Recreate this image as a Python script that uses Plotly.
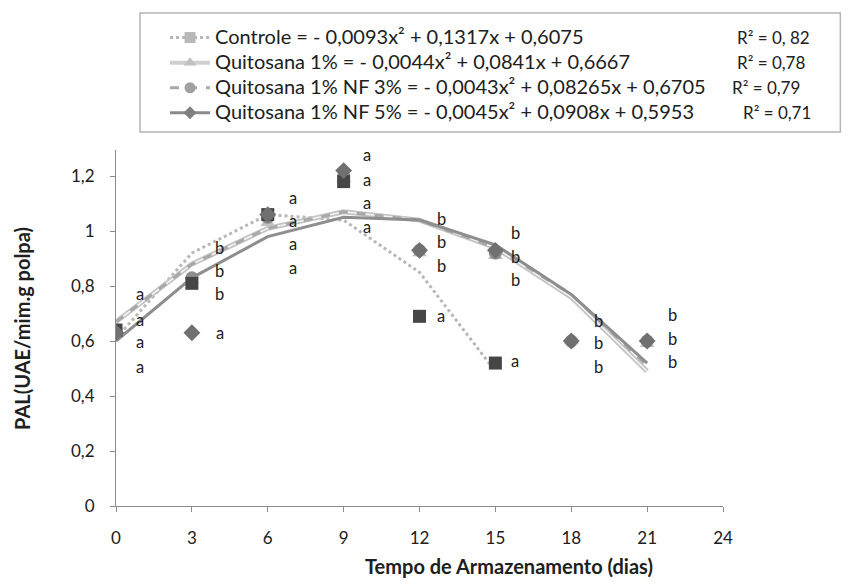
import plotly.graph_objects as go

# ---------------- data ----------------
days = [0, 3, 6, 9, 12, 15, 18, 21]
days_controle = [0, 3, 6, 9, 12, 15]

controle = [0.64, 0.81, 1.06, 1.18, 0.69, 0.52]
quitosana = [0.64, 0.82, 1.03, 1.19, 0.92, 0.91, 0.60, 0.59]
nf3 = [0.64, 0.83, 1.05, 1.20, 0.93, 0.92, 0.60, 0.60]
nf5 = [0.63, 0.63, 1.06, 1.22, 0.93, 0.93, 0.60, 0.60]

# trend lines
trend_controle = [0.61, 0.92, 1.06, 1.04, 0.85, 0.49]
trend_quitosana = [0.67, 0.88, 1.01, 1.07, 1.04, 0.94, 0.76, 0.49]
trend_nf3 = [0.67, 0.88, 1.01, 1.07, 1.04, 0.94, 0.77, 0.51]
trend_nf5 = [0.60, 0.83, 0.98, 1.05, 1.04, 0.95, 0.77, 0.52]

legend_names = [
    "Controle = - 0,0093x² + 0,1317x + 0,6075",
    "Quitosana 1% = - 0,0044x² + 0,0841x + 0,6667",
    "Quitosana 1% NF 3% = - 0,0043x² + 0,08265x + 0,6705",
    "Quitosana 1% NF 5% = - 0,0045x² + 0,0908x + 0,5953",
]
r2_labels = ["R² = 0, 82", "R² = 0,78", "R² = 0,79", "R² = 0,71"]

# significance letters
letters = ["a", "a", "a", "a",
           "b", "b", "b", "a",
           "a", "a", "a", "a",
           "a", "a", "a", "a",
           "b", "b", "b", "a",
           "b", "b", "b", "a",
           "b", "b", "b",
           "b", "b", "b"]
letter_x = [0.95] * 4 + [4.1] * 4 + [7.0] * 4 + [9.93] * 4 + [12.86] * 4 + [15.78] * 4 + [19.07] * 3 + [22.0] * 3
letter_y = [0.771, 0.676, 0.596, 0.505,
            0.938, 0.855, 0.771, 0.629,
            1.120, 1.036, 0.953, 0.865,
            1.276, 1.185, 1.102, 1.015,
            1.044, 0.960, 0.873, 0.691,
            0.993, 0.905, 0.822, 0.527,
            0.673, 0.593, 0.505,
            0.695, 0.607, 0.524]

x_ticks = [0, 3, 6, 9, 12, 15, 18, 21, 24]
y_ticks = [0, 0.2, 0.4, 0.6, 0.8, 1.0, 1.2]
y_ticktext = ["0", "0,2", "0,4", "0,6", "0,8", "1", "1,2"]

FONT = "Lato, Carlito, 'Liberation Sans', sans-serif"

# ---------------- layout helpers (screen px -> paper) ----------------
OFF = 8
L, R, T, B = 108, 714.7, 142, 498


def px(sx):
    return (sx - OFF - L) / (R - L)


def py(sy):
    return (B - (sy - OFF)) / (B - T)


fig = go.Figure()

# trend lines
fig.add_trace(go.Scatter(x=days_controle, y=trend_controle, mode="lines",
                         line=dict(color="#b8b8b8", width=3, dash="dot"),
                         showlegend=False, hoverinfo="skip"))
fig.add_trace(go.Scatter(x=days, y=trend_quitosana, mode="lines",
                         line=dict(color="#c4c4c4", width=5),
                         showlegend=False, hoverinfo="skip"))
fig.add_trace(go.Scatter(x=days, y=trend_quitosana, mode="lines",
                         line=dict(color="#f4f4f4", width=1.5),
                         showlegend=False, hoverinfo="skip"))
fig.add_trace(go.Scatter(x=days, y=trend_nf3, mode="lines",
                         line=dict(color="#a8a8a8", width=3, dash="dash"),
                         showlegend=False, hoverinfo="skip"))
fig.add_trace(go.Scatter(x=days, y=trend_nf5, mode="lines",
                         line=dict(color="#8e8e8e", width=3),
                         showlegend=False, hoverinfo="skip"))

# data markers
fig.add_trace(go.Scatter(x=days, y=quitosana, mode="markers",
                         marker=dict(symbol="triangle-up", size=13, color="#c0c0c0"),
                         showlegend=False))
fig.add_trace(go.Scatter(x=days, y=nf3, mode="markers",
                         marker=dict(symbol="circle", size=13, color="#8e8e8e"),
                         showlegend=False))
fig.add_trace(go.Scatter(x=days_controle, y=controle, mode="markers",
                         marker=dict(symbol="square", size=13, color="#464646"),
                         showlegend=False))
fig.add_trace(go.Scatter(x=days, y=nf5, mode="markers",
                         marker=dict(symbol="diamond", size=13, color="#707070"),
                         showlegend=False))

# legend-only entries
leg_styles = [
    (dict(color="#b8b8b8", width=3, dash="dot"), dict(symbol="square", size=11, color="#b8b8b8")),
    (dict(color="#d0d0d0", width=4), dict(symbol="triangle-up", size=11, color="#c0c0c0")),
    (dict(color="#a8a8a8", width=3, dash="dash"), dict(symbol="circle", size=11, color="#a0a0a0")),
    (dict(color="#8a8a8a", width=3), dict(symbol="diamond", size=10, color="#808080")),
]
for name, (ln, mk) in zip(legend_names, leg_styles):
    fig.add_trace(go.Scatter(x=[None], y=[None], mode="lines+markers",
                             name='<span style="font-size:20px">' + name + '</span>',
                             line=ln, marker=mk, showlegend=True))

# letters
for t, xx, yy in zip(letters, letter_x, letter_y):
    fig.add_annotation(x=xx, y=yy, text=t, showarrow=False, xanchor="center",
                       yanchor="middle", font=dict(family=FONT, size=16.5, color="#202020"))

# R² annotations
r2_x_px = [735, 735, 730, 741]
r2_y_px = [37, 62, 87, 112]
for lab, xp, yp in zip(r2_labels, r2_x_px, r2_y_px):
    fig.add_annotation(xref="paper", yref="paper", x=px(xp), y=py(yp),
                       text=lab, showarrow=False, xanchor="left", yanchor="middle",
                       font=dict(family=FONT, size=17, color="#202020"))

# legend box
fig.add_shape(type="rect", xref="paper", yref="paper",
              x0=px(140), x1=px(840), y0=py(132), y1=py(13),
              line=dict(color="#b4b4b4", width=1.5), fillcolor="rgba(0,0,0,0)")

# axis titles
fig.add_annotation(xref="paper", yref="paper", x=px(509), y=py(566),
                   text="<b>Tempo de Armazenamento (dias)</b>", showarrow=False,
                   xanchor="center", yanchor="middle",
                   font=dict(family=FONT, size=20, color="#202020"))
fig.add_annotation(xref="paper", yref="paper", x=px(22), y=py(328),
                   text="<b>PAL(UAE/mim.g polpa)</b>", showarrow=False, textangle=-90,
                   xanchor="center", yanchor="middle",
                   font=dict(family=FONT, size=20, color="#202020"))

fig.update_layout(
    width=850, height=585,
    margin=dict(l=L, r=850 - R, t=T, b=585 - B),
    paper_bgcolor="white", plot_bgcolor="white",
    font=dict(family=FONT, size=17, color="#202020"),
    showlegend=True,
    legend=dict(x=px(165), y=py(20), xanchor="left", yanchor="top",
                bgcolor="rgba(0,0,0,0)", borderwidth=0,
                font=dict(family=FONT, size=17, color="#202020"),
                itemwidth=40, tracegroupgap=0),
    xaxis=dict(range=[0, 24], tickvals=x_ticks, showgrid=False, zeroline=False,
               showline=True, linecolor="#8c8c8c", linewidth=1,
               ticks="outside", ticklen=5, tickcolor="#8c8c8c",
               ticklabelstandoff=12, fixedrange=True),
    yaxis=dict(range=[0, 1.295], tickvals=y_ticks, ticktext=y_ticktext,
               showgrid=False, zeroline=False,
               showline=True, linecolor="#8c8c8c", linewidth=1,
               ticks="outside", ticklen=5, tickcolor="#8c8c8c",
               ticklabelstandoff=12, fixedrange=True),
)

fig.write_html("out.html")
